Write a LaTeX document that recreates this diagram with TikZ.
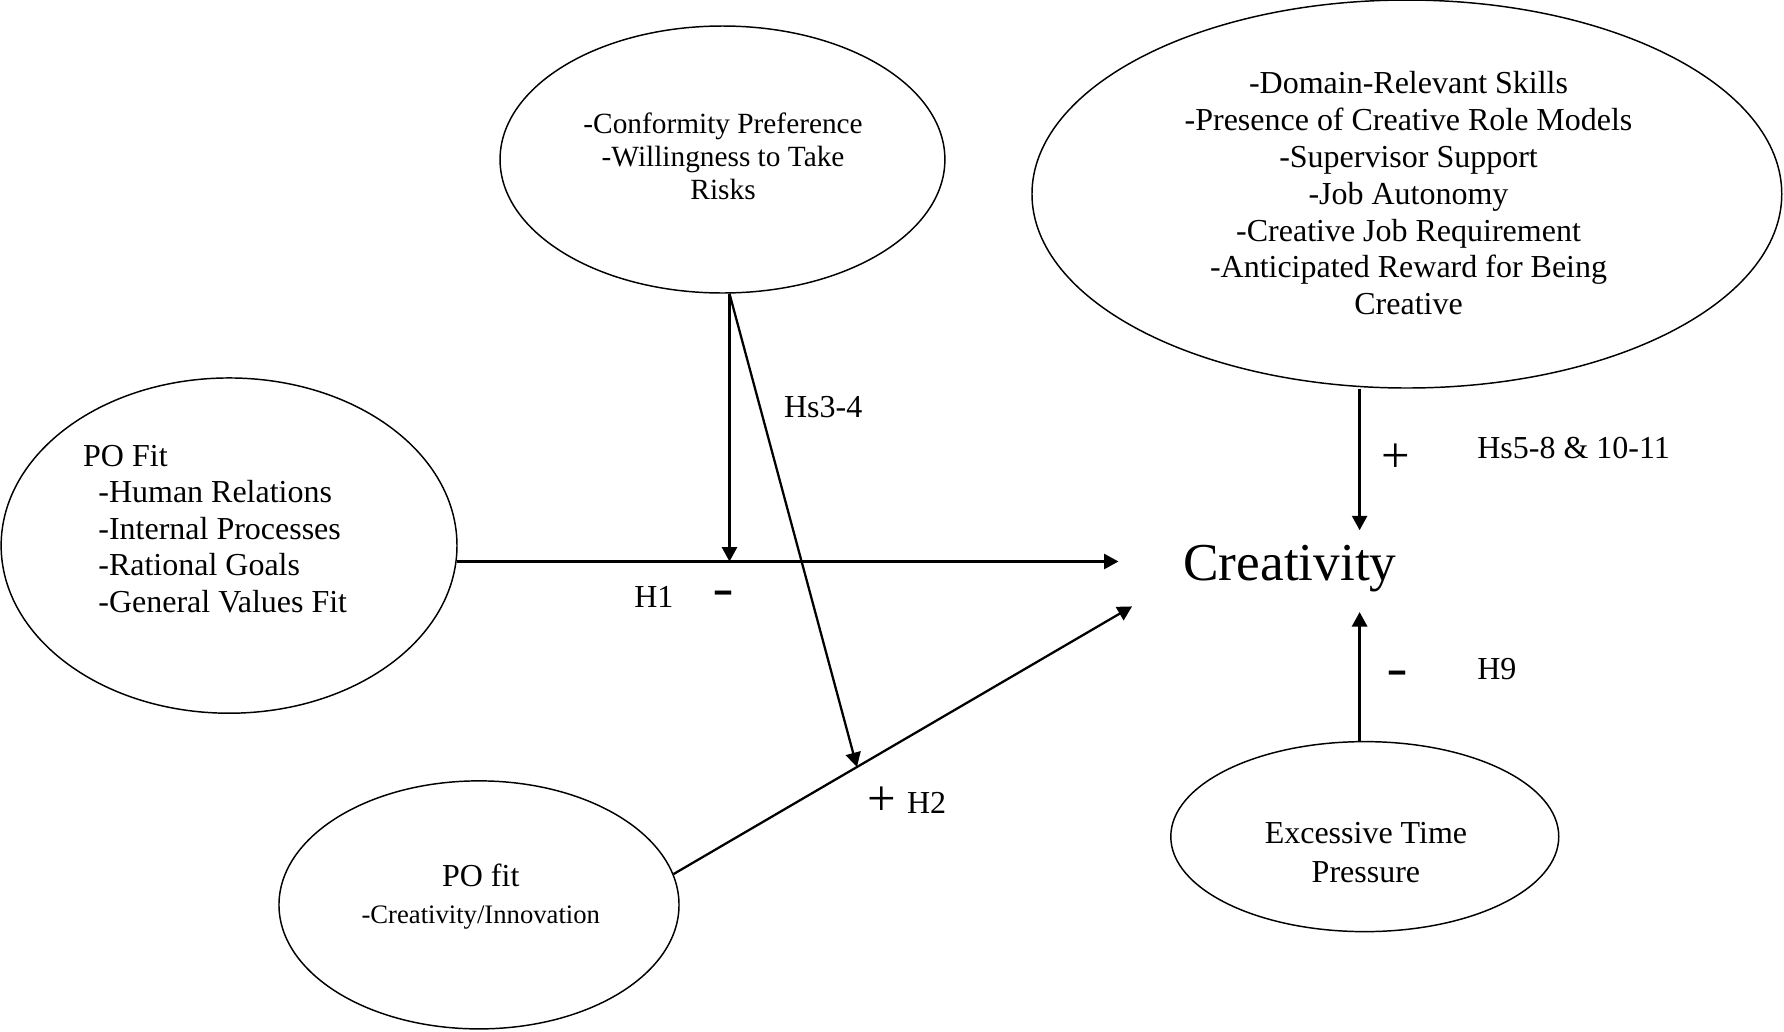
\documentclass[tikz,border=0pt]{standalone}
\usepackage{graphicx}
\usepackage{fontspec}
\setmainfont{Liberation Serif}
\usetikzlibrary{arrows.meta,shapes.geometric,calc}

\begin{document}
\begin{tikzpicture}[>={Triangle[length=0.19cm,width=0.2cm]},
    blob/.style={ellipse,draw,line width=0.55pt,inner sep=0pt},
    txt/.style={inner sep=0pt,font=\fontsize{12pt}{13.7pt}\selectfont},
    sign/.style={inner sep=0pt,font=\fontsize{12pt}{14pt}\bfseries},
    link/.style={->,line width=0.85pt}]
    \useasboundingbox (0,0) rectangle (23.52,-13.605);

    \node[blob,minimum width=6.01cm,minimum height=4.42cm]   (pofit)     at (3.02,-7.193)   {};
    \node[blob,minimum width=5.865cm,minimum height=3.52cm]  (conform)   at (9.525,-2.103)  {};
    \node[blob,minimum width=9.885cm,minimum height=5.115cm] (resources) at (18.548,-2.558) {};
    \node[blob,minimum width=5.274cm,minimum height=3.27cm]  (pocreat)   at (6.315,-11.93)  {};
    \node[blob,minimum width=5.115cm,minimum height=2.505cm] (pressure)  at (17.993,-11.03) {};

    \node[txt,align=left,anchor=north west] (pofittxt) at (1.09,-5.861)
        {PO Fit\\\hspace*{0.2cm}-Human Relations\\\hspace*{0.2cm}-Internal Processes\\
         \hspace*{0.2cm}-Rational Goals\\\hspace*{0.2cm}-General Values Fit};
    \node[txt,align=center,font=\fontsize{11pt}{12.4pt}\selectfont] (conformtxt) at (9.533,-2.064)
        {-Conformity Preference\\-Willingness to Take\\Risks};
    \node[txt,align=center,font=\fontsize{12pt}{13.8pt}\selectfont] (resourcestxt) at (18.57,-2.55)
        {-Domain-Relevant Skills\\-Presence of Creative Role Models\\-Supervisor Support\\-Job Autonomy\\
         -Creative Job Requirement\\-Anticipated Reward for Being\\Creative};
    \node[txt,align=center] (pocreattxt) at (6.338,-11.82)
        {PO fit\\[0.4pt]{\fontsize{10pt}{12pt}\selectfont -Creativity/Innovation}};
    \node[txt,align=center,font=\fontsize{12pt}{14.3pt}\selectfont] (pressuretxt) at (18.008,-11.24)
        {Excessive Time\\Pressure};

    \node[txt,anchor=base west,font=\fontsize{20pt}{24pt}\selectfont] (creativity) at (15.594,-7.647) {Creativity};

    % arrow ends around the outcome
    \coordinate (c-left) at ([shift={(-0.849,0.23)}]creativity.base west);
    \coordinate (c-low)  at ([shift={(-0.669,-0.348)}]creativity.base west);
    \coordinate (c-top)  at ([shift={(2.331,0.657)}]creativity.base west);
    \coordinate (c-bot)  at ([shift={(2.331,-0.423)}]creativity.base west);

    \draw[link] (pofit.-4.3) -- (pofit.-4.3 -| c-left);
    \draw[link] (pocreat.9) -- (c-low);
    \draw[link] (conform.-87) -- (conform.-87 |- pofit.-4.3);
    \draw[link] (conform.-87) -- ($(pocreat.9)!0.4!(c-low)$);
    \draw[link] (c-top |- resources.south) -- (c-top);
    \draw[link] (c-bot |- pressure.north) -- (c-bot);

    % hypothesis labels
    \node[txt,anchor=base west] (hs34) at (10.33,-5.499) {Hs3-4};
    \node[txt,anchor=base west] (h1) at (8.355,-8.01) {H1};
    \node[sign] (h1sign) at (9.533,-7.888) {\scalebox{1}[1.8]{\textendash}};
    \node[txt,anchor=base west] (h2) at (11.436,-10.719)
        {{\fontsize{19pt}{19pt}\selectfont\raisebox{-1pt}{+}}\hspace{0.14cm}H2};
    \node[txt,font=\fontsize{19pt}{19pt}\selectfont] (hs511plus) at (18.398,-6.038) {+};
    \node[txt,anchor=base west] (hs511) at (19.47,-6.051) {Hs5-8 \& 10-11};
    \node[sign] (h9sign) at (18.43,-8.943) {\scalebox{1}[1.8]{\textendash}};
    \node[txt,anchor=base west] (h9) at (19.47,-8.964) {H9};
\end{tikzpicture}
\end{document}
